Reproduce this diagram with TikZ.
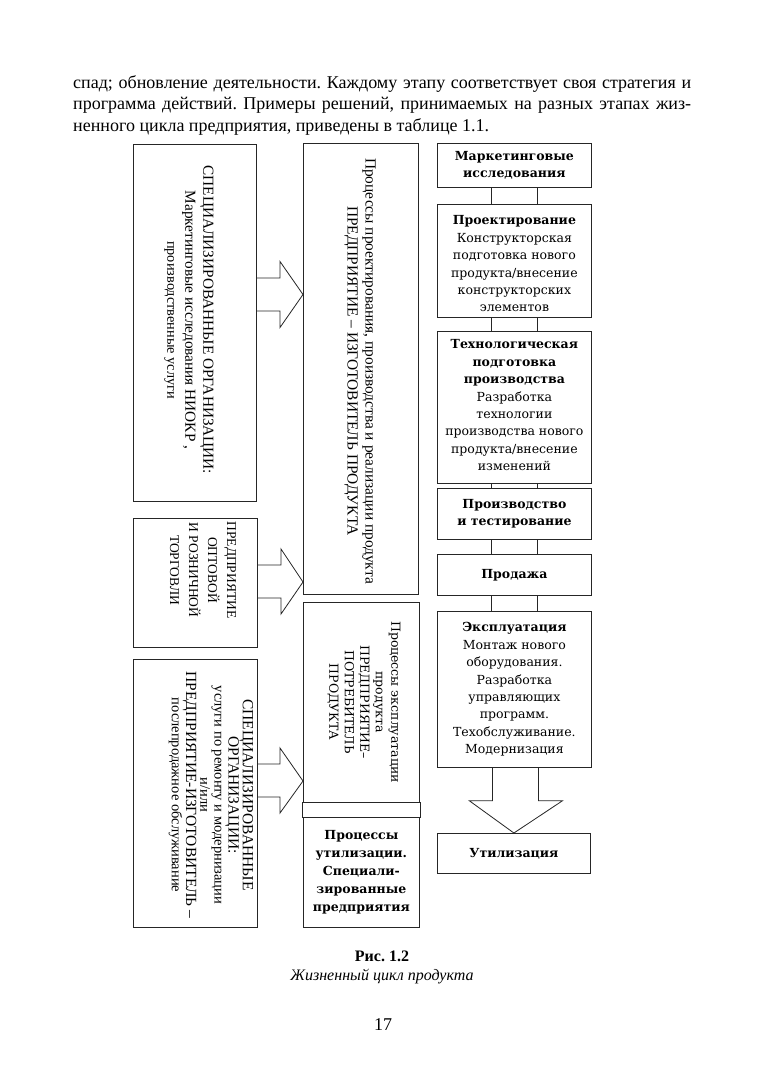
\documentclass[tikz,border=0pt]{standalone}
\usepackage{fontspec}
\setmainfont{Liberation Serif}
\newfontfamily\sch{DejaVu Serif}
\usetikzlibrary{calc}
\frenchspacing
\begin{document}
\begin{tikzpicture}[x=1pt,y=-1pt,
  box/.style={draw=black!85, line width=0.8pt, inner sep=0pt, anchor=north west},
  ln/.style={draw=black!85, line width=0.8pt},
  tx/.style={inner sep=0pt, align=center},
  par/.style={inner sep=0pt, anchor=base west, font=\fontsize{18}{21.5}\selectfont},
  rtx/.style={tx, font=\sch\fontsize{12.5}{17.4}\selectfont}]
\fill[white] (0,0) rectangle (764,1080);
\useasboundingbox (0,0) rectangle (764,1080);

% paragraph
\node[par] (p1) at (73,88) {\makebox[618pt][s]{спад; обновление деятельности. Каждому этапу соответствует своя стратегия и}};
\node[par] (p2) at (73,109.5) {\makebox[618pt][s]{программа действий. Примеры решений, принимаемых на разных этапах жиз-}};
\node[par] (p3) at (73,131) {ненного цикла предприятия, приведены в таблице 1.1.};

% left boxes
\node[box, minimum width=123pt, minimum height=357pt] (L1) at (133,144) {};
\node[box, minimum width=124pt, minimum height=129pt] (L2) at (133,518) {};
\node[box, minimum width=124pt, minimum height=268pt] (L3) at (133,659) {};
% middle boxes
\node[box, minimum width=115pt, minimum height=451pt] (M1) at (303,143) {};
\node[box, minimum width=116pt, minimum height=200pt] (M2) at (303,602) {};
\node[box, minimum width=118pt, minimum height=15pt] (MB) at (302,802) {};
\node[box, minimum width=116pt, minimum height=110pt] (M3) at (303,817) {};
% right boxes
\node[box, minimum width=154pt, minimum height=44pt] (R1) at (437,143) {};
\node[box, minimum width=154pt, minimum height=113pt] (R2) at (437,204) {};
\node[box, minimum width=154pt, minimum height=152pt] (R3) at (437,331) {};
\node[box, minimum width=154pt, minimum height=51pt] (R4) at (437,488) {};
\node[box, minimum width=154pt, minimum height=41pt] (R5) at (437,554) {};
\node[box, minimum width=154pt, minimum height=156pt] (R6) at (437,611) {};
\node[box, minimum width=153pt, minimum height=40pt] (R7) at (437,833) {};

% right connectors (double lines)
\foreach \a/\b in {R1/R2,R2/R3,R3/R4,R4/R5,R5/R6}{
  \draw[ln] ([xshift=-23pt]\a.south) -- ([xshift=-23pt]\b.north);
  \draw[ln] ([xshift=23pt]\a.south) -- ([xshift=23pt]\b.north);
}
% right block arrow
\draw[ln] ($(R6.south)+(-22,0)$) -- ($(R6.south)+(-22,33)$) -- ($(R6.south)+(-45,33)$)
  -- (R7.north) -- ($(R6.south)+(48,33)$) -- ($(R6.south)+(24,33)$) -- ($(R6.south)+(24,0)$);

% left block arrows
\coordinate (t1) at (M1.west |- 0,294.5);
\coordinate (t2) at (M1.west |- 0,582);
\coordinate (t3) at (M2.west |- 0,781);
\draw[ln] ($(L1.east |- t1)+(0,-16.5)$) -- ($(t1)+(-23,-16.5)$) -- ($(t1)+(-23,-33)$) -- (t1)
  -- ($(t1)+(-23,33)$) -- ($(t1)+(-23,16.5)$) -- ($(L1.east |- t1)+(0,16.5)$);
\draw[ln] ($(L2.east |- t2)+(0,-17)$) -- ($(t2)+(-22,-17)$) -- ($(t2)+(-22,-33)$) -- (t2)
  -- ($(t2)+(-22,32)$) -- ($(t2)+(-22,16)$) -- ($(L2.east |- t2)+(0,16)$);
\draw[ln] ($(L3.east |- t3)+(0,-17)$) -- ($(t3)+(-23,-17)$) -- ($(t3)+(-23,-33)$) -- (t3)
  -- ($(t3)+(-23,32)$) -- ($(t3)+(-23,16)$) -- ($(L3.east |- t3)+(0,16)$);

% rotated texts
\node[tx, rotate=-90, font=\fontsize{15.3}{18}\selectfont] (L1t) at (189,320)
  {СПЕЦИАЛИЗИРОВАННЫЕ ОРГАНИЗАЦИИ:\\Маркетинговые исследования НИОКР ,\\{\fontsize{14.3}{17}\selectfont производственные услуги}};
\node[tx, rotate=-90, font=\fontsize{13.5}{19}\selectfont] (L2t) at (203,570)
  {ПРЕДПРИЯТИЕ\\ОПТОВОЙ\\И РОЗНИЧНОЙ\\ТОРГОВЛИ};
\node[tx, rotate=-90, font=\fontsize{15.5}{14.2}\selectfont] (L3t) at (211,795)
  {СПЕЦИАЛИЗИРОВАННЫЕ\\ОРГАНИЗАЦИИ:\\{\fontsize{14.5}{14}\selectfont услуги по ремонту и модернизации}\\{\fontsize{14.5}{14}\selectfont и/или}\\ПРЕДПРИЯТИЕ-ИЗГОТОВИТЕЛЬ –\\{\fontsize{14.5}{14}\selectfont послепродажное обслуживание}};
\node[tx, rotate=-90, font=\fontsize{15.4}{18}\selectfont] (M1t) at (360,371)
  {Процессы проектирования, производства и реализации продукта\\ПРЕДПРИЯТИЕ – ИЗГОТОВИТЕЛЬ ПРОДУКТА};
\node[tx, rotate=-90, font=\sch\fontsize{12.5}{15.5}\selectfont] (M2t) at (364,702)
  {Процессы эксплуатации\\продукта\\ПРЕДПРИЯТИЕ–\\ПОТРЕБИТЕЛЬ\\ПРОДУКТА};
\node[tx, font=\sch\bfseries\fontsize{12.5}{18}\selectfont] (M3t) at (M3.center)
  {Процессы\\утилизации.\\Специали-\\зированные\\предприятия};

% right texts
\node[rtx] (R1t) at (R1.center) {\textbf{Маркетинговые}\\\textbf{исследования}};
\node[rtx] (R2t) at ($(R2.center)+(0,3)$) {\textbf{Проектирование}\\Конструкторская\\подготовка нового\\продукта/внесение\\конструкторских\\элементов};
\node[rtx] (R3t) at ($(R3.center)+(0,-2)$) {\textbf{Технологическая}\\\textbf{подготовка}\\\textbf{производства}\\Разработка\\технологии\\производства нового\\продукта/внесение\\изменений};
\node[rtx] (R4t) at (R4.center) {\textbf{Производство}\\\textbf{и тестирование}};
\node[rtx] (R5t) at (R5.center) {\textbf{Продажа}};
\node[rtx] (R6t) at (R6.center) {\textbf{Эксплуатация}\\Монтаж нового\\оборудования.\\Разработка\\управляющих\\программ.\\Техобслуживание.\\Модернизация};
\node[rtx] (R7t) at (R7.center) {\textbf{Утилизация}};

% caption
\node[inner sep=0pt, anchor=base, font=\bfseries\fontsize{16}{18}\selectfont] (c1) at (382,961) {Рис. 1.2};
\node[inner sep=0pt, anchor=base, font=\itshape\fontsize{16}{18}\selectfont] (c2) at (382,980) {Жизненный цикл продукта};
\node[inner sep=0pt, anchor=base, font=\fontsize{18}{20}\selectfont] (pg) at (383,1030) {17};
\end{tikzpicture}
\end{document}
